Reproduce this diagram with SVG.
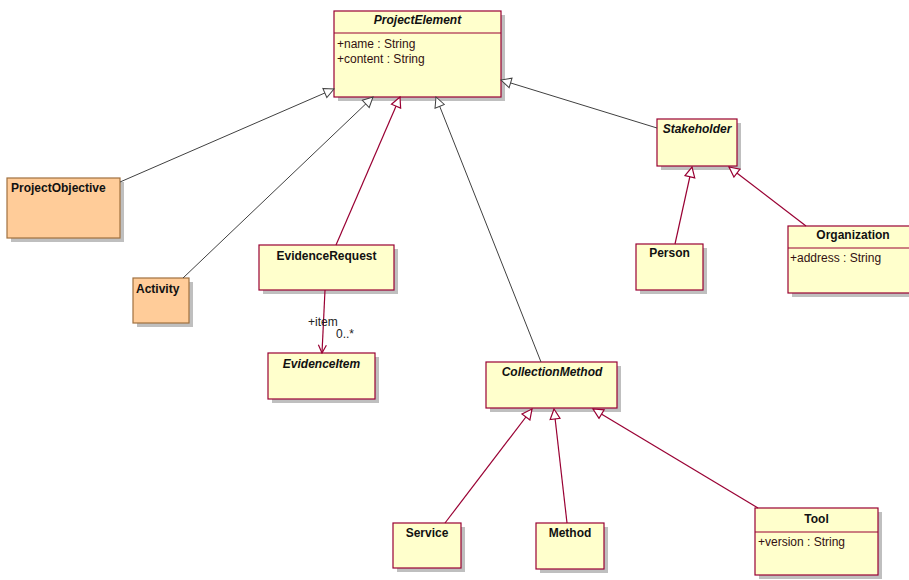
<svg xmlns="http://www.w3.org/2000/svg" width="909" height="580" viewBox="0 0 909 580">
<style>
.box{fill:#FFFFCC;stroke:#990033;stroke-width:1.2}
.peach{fill:#FFCC99;stroke:#A0703F;stroke-width:1.2}
.sh{fill:#BFBFBF}
.div{stroke:#990033;stroke-width:1}
.name{font-family:"Liberation Sans",Arial,sans-serif;font-size:12px;font-weight:bold;fill:#111}
.abs{font-style:italic}
.attr{font-family:"Liberation Sans",Arial,sans-serif;font-size:12px;fill:#331111}
.lbl{font-family:"Liberation Sans",Arial,sans-serif;font-size:12px;fill:#222}
.gl{stroke:#404040;stroke-width:1;fill:none}
.rl{stroke:#990033;stroke-width:1.2;fill:none}
</style>
<defs>
<marker id="triG" markerUnits="userSpaceOnUse" markerWidth="12" markerHeight="12" refX="11" refY="6" orient="auto">
<path d="M1,1 L11,6 L1,11 Z" fill="#fff" stroke="#404040" stroke-width="1"/>
</marker>
<marker id="triR" markerUnits="userSpaceOnUse" markerWidth="12" markerHeight="12" refX="11" refY="6" orient="auto">
<path d="M1,1 L11,6 L1,11 Z" fill="#fff" stroke="#990033" stroke-width="1.2"/>
</marker>
<marker id="openR" markerUnits="userSpaceOnUse" markerWidth="10" markerHeight="10" refX="9" refY="5" orient="auto">
<path d="M1,1 L9,5 L1,9" fill="none" stroke="#990033" stroke-width="1.2"/>
</marker>
</defs>

<g id="ProjectElement">
<rect class="sh" x="338" y="15" width="167" height="86"/>
<rect class="box" x="334" y="11" width="167" height="86"/>
<line class="div" x1="334" y1="33" x2="501" y2="33"/>
<text class="name abs" x="417.5" y="24" text-anchor="middle">ProjectElement</text>
<text class="attr" x="337" y="48">+name : String</text>
<text class="attr" x="337" y="63">+content : String</text>
</g>

<g id="ProjectObjective">
<rect class="sh" x="11" y="182" width="113" height="60"/>
<rect class="peach" x="7" y="178" width="113" height="60"/>
<text class="name" x="11" y="192">ProjectObjective</text>
</g>

<g id="Activity">
<rect class="sh" x="137" y="282" width="56" height="45"/>
<rect class="peach" x="133" y="278" width="56" height="45"/>
<text class="name" x="136" y="293">Activity</text>
</g>

<g id="EvidenceRequest">
<rect class="sh" x="263" y="249" width="135" height="45"/>
<rect class="box" x="259" y="245" width="135" height="45"/>
<text class="name" x="326.5" y="260" text-anchor="middle">EvidenceRequest</text>
</g>

<g id="EvidenceItem">
<rect class="sh" x="272" y="357" width="107" height="46"/>
<rect class="box" x="268" y="353" width="107" height="46"/>
<text class="name abs" x="321.5" y="368" text-anchor="middle">EvidenceItem</text>
</g>

<g id="Stakeholder">
<rect class="sh" x="661" y="123" width="80" height="47"/>
<rect class="box" x="657" y="119" width="80" height="47"/>
<text class="name abs" x="697" y="133" text-anchor="middle">Stakeholder</text>
</g>

<g id="Person">
<rect class="sh" x="640" y="248" width="67" height="46"/>
<rect class="box" x="636" y="244" width="67" height="46"/>
<text class="name" x="669.5" y="257" text-anchor="middle">Person</text>
</g>

<g id="Organization">
<rect class="sh" x="792" y="230" width="130" height="67"/>
<rect class="box" x="788" y="226" width="130" height="67"/>
<line class="div" x1="788" y1="248" x2="918" y2="248"/>
<text class="name" x="853" y="239" text-anchor="middle">Organization</text>
<text class="attr" x="790" y="262">+address : String</text>
</g>

<g id="CollectionMethod">
<rect class="sh" x="490" y="366" width="131" height="46"/>
<rect class="box" x="486" y="362" width="131" height="46"/>
<text class="name abs" x="552" y="376" text-anchor="middle">CollectionMethod</text>
</g>

<g id="Service">
<rect class="sh" x="397" y="527" width="68" height="45"/>
<rect class="box" x="393" y="523" width="68" height="45"/>
<text class="name" x="427" y="537" text-anchor="middle">Service</text>
</g>

<g id="Method">
<rect class="sh" x="540" y="527" width="68" height="46"/>
<rect class="box" x="536" y="523" width="68" height="46"/>
<text class="name" x="570" y="537" text-anchor="middle">Method</text>
</g>

<g id="Tool">
<rect class="sh" x="759" y="512" width="123" height="67"/>
<rect class="box" x="755" y="508" width="123" height="67"/>
<line class="div" x1="755" y1="532" x2="878" y2="532"/>
<text class="name" x="816.5" y="523" text-anchor="middle">Tool</text>
<text class="attr" x="758" y="546">+version : String</text>
</g>

<g id="connectors">
<line class="gl" x1="120" y1="182" x2="334" y2="89" marker-end="url(#triG)"/>
<line class="gl" x1="183" y1="278" x2="373" y2="97" marker-end="url(#triG)"/>
<line class="rl" x1="336" y1="245" x2="400" y2="97" marker-end="url(#triR)"/>
<line class="gl" x1="541" y1="362" x2="436" y2="97" marker-end="url(#triG)"/>
<line class="gl" x1="657" y1="128" x2="501" y2="80" marker-end="url(#triG)"/>
<line class="rl" x1="675" y1="244" x2="692" y2="167" marker-end="url(#triR)"/>
<line class="rl" x1="806" y1="226" x2="729" y2="167" marker-end="url(#triR)"/>
<line class="rl" x1="445" y1="523" x2="532" y2="409" marker-end="url(#triR)"/>
<line class="rl" x1="567" y1="523" x2="554" y2="409" marker-end="url(#triR)"/>
<line class="rl" x1="758" y1="508" x2="593" y2="409" marker-end="url(#triR)"/>
<line class="rl" x1="325" y1="290" x2="322" y2="353" marker-end="url(#openR)"/>
<text class="lbl" x="308" y="326">+item</text>
<text class="lbl" x="336" y="338">0..*</text>
</g>
</svg>
